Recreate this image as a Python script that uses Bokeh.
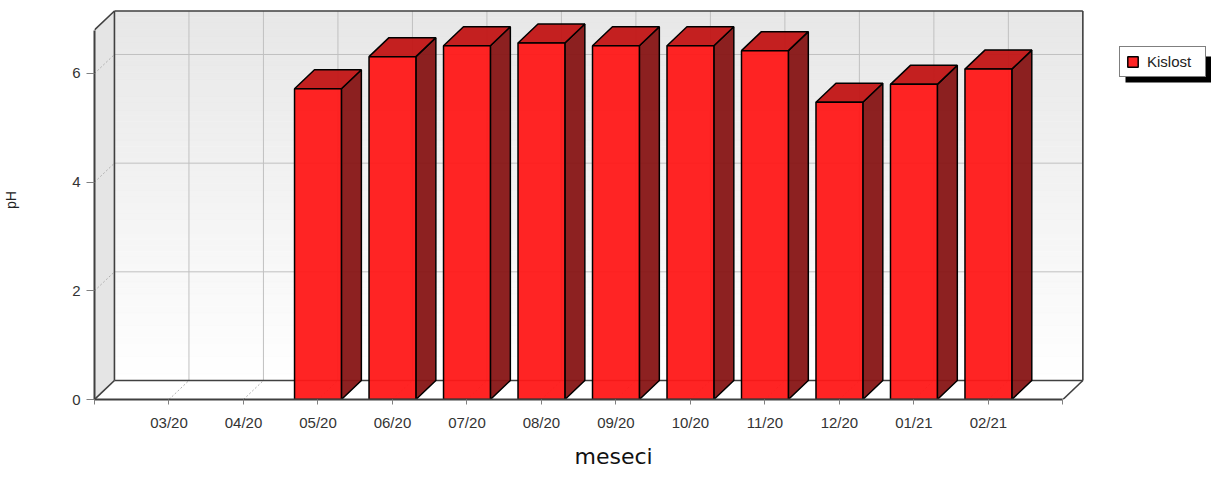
import numpy as np
from bokeh.plotting import figure
from bokeh.models import (Range1d, FixedTicker, Legend, LegendItem, Title,
                          BoxAnnotation)
from bokeh.embed import file_html
from bokeh.resources import INLINE

# ---------------- data ----------------
categories = ["03/20", "04/20", "05/20", "06/20", "07/20", "08/20",
              "09/20", "10/20", "11/20", "12/20", "01/21", "02/21"]
ph_values = [None, None, 5.72, 6.31, 6.51, 6.56, 6.51, 6.51, 6.42, 5.47, 5.80, 6.08]
y_ticks = [0, 2, 4, 6]
series_name = "Kislost"
x_title = "meseci"
y_title = "pH"

# ---------------- layout constants ----------------
W, H = 1211, 480
B_LEFT, B_BOTTOM = 91, 81
FRAME_W = W - B_LEFT
FRAME_H = H - B_BOTTOM
N = len(categories)
X_SPAN = N + 1          # category axis extent
Y_MAX = 6.8             # value axis upper bound
SX = 971 / X_SPAN       # px per category unit
SY = 369.5 / Y_MAX      # px per value unit
DX = 20 / SX            # 3D depth offsets in data units
DY = 19 / SY
BAR_W = 47 / SX

FONT = "Liberation Sans"
EDGE = "#404040"
GRID = "#c0c0c0"

p = figure(width=W, height=H, x_range=Range1d(0, FRAME_W / SX),
           y_range=Range1d(0, FRAME_H / SY), output_backend="svg",
           toolbar_location=None, title=None,
           min_border_left=B_LEFT, min_border_right=0, min_border_top=0,
           min_border_bottom=B_BOTTOM)
p.xgrid.visible = False
p.ygrid.visible = False
p.outline_line_color = None
p.background_fill_color = "white"
p.border_fill_color = "white"

xs = np.arange(1, N + 1, dtype=float)

# back wall gradient
n_strips = 60
edges = np.linspace(DY, Y_MAX + DY, n_strips + 1)
t = (0.5 * (edges[:-1] + edges[1:]) - DY) / Y_MAX
greys = [int(round(255 - 24 * tt)) for tt in t]
cols = ["#%02x%02x%02x" % (g, g, g) for g in greys]
p.quad(left=DX, right=X_SPAN + DX, bottom=edges[:-1], top=edges[1:],
       fill_color=cols, line_color=cols, line_width=0.6)

# back wall grid
p.segment(x0=xs + DX, y0=DY, x1=xs + DX, y1=Y_MAX + DY, line_color=GRID, line_width=1)
hv = np.array(y_ticks[1:], dtype=float)
p.segment(x0=DX, y0=hv + DY, x1=X_SPAN + DX, y1=hv + DY, line_color=GRID, line_width=1)

# left wall
p.patch([0, DX, DX, 0], [0, DY, Y_MAX + DY, Y_MAX], fill_color="#e5e5e5", line_color=None)
p.segment(x0=0, y0=hv, x1=DX, y1=hv + DY, line_color="#b0b0b0", line_width=1, line_dash="2 2")

# floor
p.patch([0, X_SPAN, X_SPAN + DX, DX], [0, 0, DY, DY], fill_color="white", line_color=None)
p.segment(x0=xs, y0=0, x1=xs + DX, y1=DY, line_color="#b0b0b0", line_width=1, line_dash="2 2")

# box edges
p.multi_line(
    xs=[[DX, DX], [DX, X_SPAN + DX], [X_SPAN + DX, X_SPAN + DX], [DX, X_SPAN + DX],
        [0, DX], [0, DX], [X_SPAN, X_SPAN + DX]],
    ys=[[DY, Y_MAX + DY], [Y_MAX + DY, Y_MAX + DY], [Y_MAX + DY, DY], [DY, DY],
        [Y_MAX, Y_MAX + DY], [0, DY], [0, DY]],
    line_color=EDGE, line_width=1.6)

# bars
bx = [xs[i] for i, v in enumerate(ph_values) if v is not None]
bv = [v for v in ph_values if v is not None]
h = BAR_W / 2
side_xs = [[c + h, c + h + DX, c + h + DX, c + h] for c in bx]
side_ys = [[0, DY, v + DY, v] for v in bv]
top_xs = [[c - h, c + h, c + h + DX, c - h + DX] for c in bx]
top_ys = [[v, v, v + DY, v + DY] for v in bv]
p.patches(side_xs, side_ys, fill_color="#871515", fill_alpha=0.95,
          line_color="black", line_width=1.5)
p.patches(top_xs, top_ys, fill_color="#c21515", fill_alpha=0.95,
          line_color="black", line_width=1.5)
front = p.vbar(x=bx, width=BAR_W, top=bv, bottom=0, fill_color="#ff1818",
               fill_alpha=0.95, line_color="black", line_width=1.5)

# axes
p.xaxis.ticker = FixedTicker(ticks=[0.0] + list(xs) + [float(X_SPAN)])
ov = {float(i + 1): c for i, c in enumerate(categories)}
ov[0.0] = ""
ov[float(X_SPAN)] = ""
p.xaxis.major_label_overrides = ov
p.xaxis.bounds = (0, X_SPAN)
p.yaxis.ticker = FixedTicker(ticks=y_ticks)
p.yaxis.bounds = (0, Y_MAX)
for ax in (p.xaxis[0], p.yaxis[0]):
    ax.axis_line_color = EDGE
    ax.axis_line_width = 2
    ax.major_tick_line_color = "#808080"
    ax.major_tick_line_width = 1
    ax.major_tick_in = 0
    ax.minor_tick_line_color = None
    ax.major_label_text_font = FONT
    ax.major_label_text_font_size = "15px"
    ax.major_label_text_color = "#333333"
p.xaxis.major_tick_out = 5
p.xaxis.major_label_standoff = 9
p.yaxis.major_tick_out = 8
p.yaxis.major_label_standoff = 6

# axis titles
p.yaxis.axis_label = y_title
p.yaxis.axis_label_standoff = 50
p.yaxis.axis_label_text_font = FONT
p.yaxis.axis_label_text_font_size = "14px"
p.yaxis.axis_label_text_font_style = "normal"
p.yaxis.axis_label_text_color = "#222222"

p.add_layout(Title(text=x_title, align="left", offset=480, standoff=20,
                   vertical_align="top", text_font="DejaVu Sans",
                   text_font_size="22px", text_font_style="normal",
                   text_color="#111111"), "below")

# legend with shadow
p.add_layout(BoxAnnotation(left=1031, right=1125, bottom=317, top=343,
                           left_units="screen", right_units="screen",
                           bottom_units="screen", top_units="screen",
                           fill_color="black", fill_alpha=1.0, line_color=None))
legend = Legend(items=[LegendItem(label=series_name, renderers=[front])],
                location=(1025, 322), orientation="vertical",
                padding=6, spacing=0, margin=0, glyph_width=13, glyph_height=13,
                label_standoff=8, label_height=14, label_width=52,
                label_text_font=FONT, label_text_font_size="15px",
                label_text_color="#222222",
                border_line_color="black", border_line_width=1.5,
                background_fill_color="white", background_fill_alpha=1.0)
p.add_layout(legend)

open("out.html", "w").write(file_html(p, INLINE))
